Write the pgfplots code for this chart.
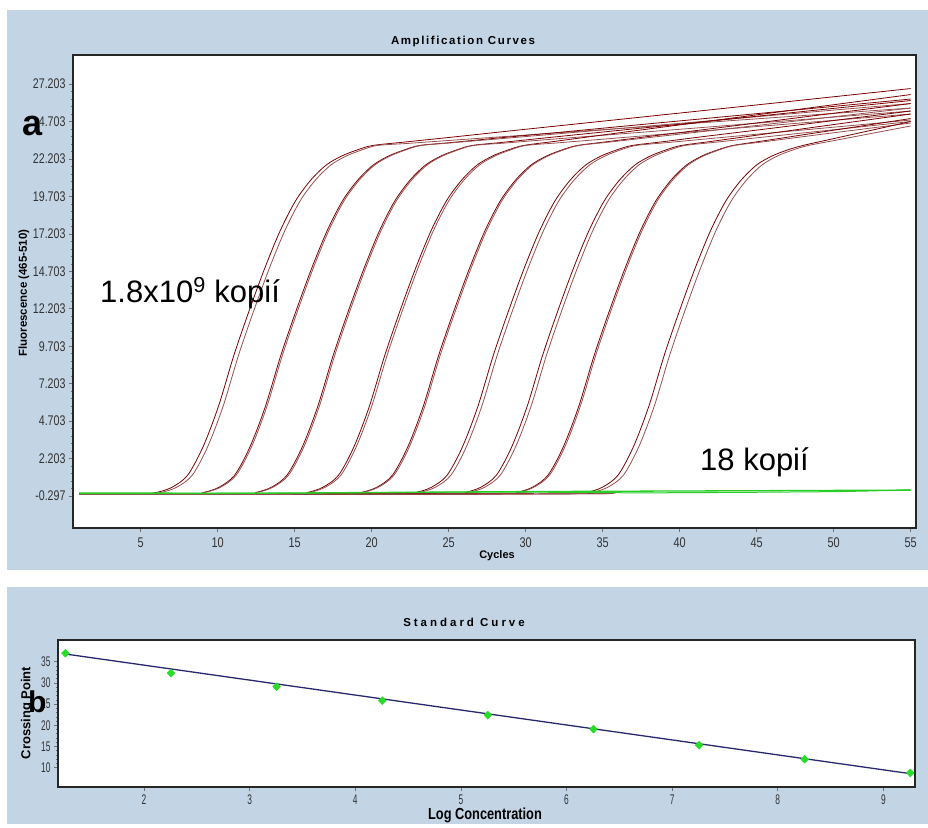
\documentclass[border=0pt]{standalone}
\usepackage{fontspec}
\setmainfont{Liberation Sans}
\usepackage{graphicx}
\usepackage{pgfplots}
\pgfplotsset{compat=1.18}
\definecolor{panel}{RGB}{195,212,228}
\definecolor{curveA}{RGB}{123,0,0}
\definecolor{curveB}{RGB}{150,80,80}
\definecolor{neg}{RGB}{40,205,40}
\definecolor{fitline}{RGB}{40,40,110}
\definecolor{ptgreen}{RGB}{40,220,40}
\newcommand\tlX[1]{\scalebox{0.78}[1]{#1}}
\newcommand\tlY[1]{\scalebox{0.76}[1]{#1}}
\newcommand\tlB[1]{\scalebox{0.6}[1]{#1}}
\begin{document}
\begin{tikzpicture}
\path[use as bounding box] (0pt,0pt) rectangle (928pt,-827pt);
\fill[white] (0pt,0pt) rectangle (928pt,-827pt);
\fill[panel] (7pt,-10pt) rectangle (928pt,-570pt);
\fill[panel] (7pt,-587pt) rectangle (928pt,-824pt);

\begin{axis}[
  at={(73pt,-528pt)}, anchor=south west, scale only axis,
  width=843pt, height=473pt,
  xmin=0.6, xmax=55.35, ymin=-2.43, ymax=29.14,
  axis background/.style={fill=white},
  axis line style={line width=1.1pt, black!85},
  tick pos=left, tick align=outside,
  major tick length=4pt, minor tick length=2pt,
  minor y tick num=4,
  tick style={black!55, line width=0.6pt},
  xtick={5,10,15,20,25,30,35,40,45,50,55},
  xticklabels={\tlX{5},\tlX{10},\tlX{15},\tlX{20},\tlX{25},\tlX{30},\tlX{35},\tlX{40},\tlX{45},\tlX{50},\tlX{55}},
  ytick={-0.297,2.203,4.703,7.203,9.703,12.203,14.703,17.203,19.703,22.203,24.703,27.203},
  yticklabels={\tlY{-0.297},\tlY{2.203},\tlY{4.703},\tlY{7.203},\tlY{9.703},\tlY{12.203},\tlY{14.703},\tlY{17.203},\tlY{19.703},\tlY{22.203},\tlY{24.703},\tlY{27.203}},
  xticklabel style={font=\fontsize{14}{14}\selectfont, text=black!80, yshift=-2pt},
  yticklabel style={font=\fontsize{14}{14}\selectfont, text=black!80},
  every axis plot/.append style={smooth, tension=0.5},
]
\addplot[curveA, line width=0.8pt] coordinates {(1,-0.15)(5.05,-0.15)(6.05,-0.05)(7.05,0.3)(8.05,1.1)(9.05,3.0)(10.05,5.7)(11.05,9.1)(12.05,12.1)(13.05,14.9)(14.05,17.4)(15.05,19.4)(16.05,20.8)(17.05,21.8)(18.05,22.4)(19.05,22.8)(20.05,23.1)(22.05,23.32)(25.05,23.64)(29.05,24.08)(34.05,24.62)(40.05,25.27)(47.05,26.03)(55,26.9)};
\addplot[curveB, line width=0.8pt] coordinates {(1,-0.2)(5.35,-0.15)(6.35,-0.05)(7.35,0.3)(8.35,1.1)(9.35,3.0)(10.35,5.7)(11.35,9.1)(12.35,12.1)(13.35,14.9)(14.35,17.4)(15.35,19.4)(16.35,20.8)(17.35,21.8)(18.35,22.4)(19.35,22.8)(20.35,23.1)(22.35,23.24)(25.35,23.46)(29.35,23.75)(34.35,24.11)(40.35,24.54)(47.35,25.05)(55,25.6)};
\addplot[curveA, line width=0.8pt] coordinates {(1,-0.15)(8.1,-0.15)(9.1,-0.05)(10.1,0.3)(11.1,1.1)(12.1,3.0)(13.1,5.7)(14.1,9.1)(15.1,12.1)(16.1,14.9)(17.1,17.4)(18.1,19.4)(19.1,20.8)(20.1,21.8)(21.1,22.4)(22.1,22.8)(23.1,23.1)(25.1,23.29)(28.1,23.59)(32.1,23.97)(37.1,24.46)(43.1,25.04)(50.1,25.72)(55,26.2)};
\addplot[curveB, line width=0.8pt] coordinates {(1,-0.15)(8.2,-0.15)(9.2,-0.05)(10.2,0.3)(11.2,1.1)(12.2,3.0)(13.2,5.7)(14.2,9.1)(15.2,12.1)(16.2,14.9)(17.2,17.4)(18.2,19.4)(19.2,20.8)(20.2,21.8)(21.2,22.4)(22.2,22.8)(23.2,23.1)(25.2,23.28)(28.2,23.54)(32.2,23.89)(37.2,24.33)(43.2,24.86)(50.2,25.48)(55,25.9)};
\addplot[curveA, line width=0.8pt] coordinates {(1,-0.15)(11.5,-0.15)(12.5,-0.05)(13.5,0.3)(14.5,1.1)(15.5,3.0)(16.5,5.7)(17.5,9.1)(18.5,12.1)(19.5,14.9)(20.5,17.4)(21.5,19.4)(22.5,20.8)(23.5,21.8)(24.5,22.4)(25.5,22.8)(26.5,23.1)(28.5,23.31)(31.5,23.63)(35.5,24.05)(40.5,24.57)(46.5,25.21)(55,26.1)};
\addplot[curveB, line width=0.8pt] coordinates {(1,-0.2)(11.6,-0.15)(12.6,-0.05)(13.6,0.3)(14.6,1.1)(15.6,3.0)(16.6,5.7)(17.6,9.1)(18.6,12.1)(19.6,14.9)(20.6,17.4)(21.6,19.4)(22.6,20.8)(23.6,21.8)(24.6,22.4)(25.6,22.8)(26.6,23.1)(28.6,23.26)(31.6,23.51)(35.6,23.83)(40.6,24.23)(46.6,24.72)(55,25.4)};
\addplot[curveA, line width=0.8pt] coordinates {(1,-0.15)(14.85,-0.15)(15.85,-0.05)(16.85,0.3)(17.85,1.1)(18.85,3.0)(19.85,5.7)(20.85,9.1)(21.85,12.1)(22.85,14.9)(23.85,17.4)(24.85,19.4)(25.85,20.8)(26.85,21.8)(27.85,22.4)(28.85,22.8)(29.85,23.1)(31.85,23.37)(34.85,23.78)(38.85,24.32)(43.85,24.99)(49.85,25.8)(55,26.5)};
\addplot[curveB, line width=0.8pt] coordinates {(1,-0.15)(15,-0.15)(16,-0.05)(17,0.3)(18,1.1)(19,3.0)(20,5.7)(21,9.1)(22,12.1)(23,14.9)(24,17.4)(25,19.4)(26,20.8)(27,21.8)(28,22.4)(29,22.8)(30,23.1)(32,23.27)(35,23.52)(39,23.86)(44,24.28)(50,24.78)(55,25.2)};
\addplot[curveA, line width=0.8pt] coordinates {(1,-0.15)(18.35,-0.15)(19.35,-0.05)(20.35,0.3)(21.35,1.1)(22.35,3.0)(23.35,5.7)(24.35,9.1)(25.35,12.1)(26.35,14.9)(27.35,17.4)(28.35,19.4)(29.35,20.8)(30.35,21.8)(31.35,22.4)(32.35,22.8)(33.35,23.1)(35.35,23.36)(38.35,23.75)(42.35,24.26)(47.35,24.91)(55,25.9)};
\addplot[curveB, line width=0.8pt] coordinates {(1,-0.2)(18.45,-0.15)(19.45,-0.05)(20.45,0.3)(21.45,1.1)(22.45,3.0)(23.45,5.7)(24.45,9.1)(25.45,12.1)(26.45,14.9)(27.45,17.4)(28.45,19.4)(29.45,20.8)(30.45,21.8)(31.45,22.4)(32.45,22.8)(33.45,23.1)(35.45,23.33)(38.45,23.68)(42.45,24.14)(47.45,24.72)(55,25.6)};
\addplot[curveA, line width=0.8pt] coordinates {(1,-0.15)(21.9,-0.15)(22.9,-0.05)(23.9,0.3)(24.9,1.1)(25.9,3.0)(26.9,5.7)(27.9,9.1)(28.9,12.1)(29.9,14.9)(30.9,17.4)(31.9,19.4)(32.9,20.8)(33.9,21.8)(34.9,22.4)(35.9,22.8)(36.9,23.1)(38.9,23.35)(41.9,23.74)(45.9,24.24)(50.9,24.88)(55,25.4)};
\addplot[curveB, line width=0.8pt] coordinates {(1,-0.15)(22.15,-0.15)(23.15,-0.05)(24.15,0.3)(25.15,1.1)(26.15,3.0)(27.15,5.7)(28.15,9.1)(29.15,12.1)(30.15,14.9)(31.15,17.4)(32.15,19.4)(33.15,20.8)(34.15,21.8)(35.15,22.4)(36.15,22.8)(37.15,23.1)(39.15,23.29)(42.15,23.58)(46.15,23.96)(51.15,24.43)(55,24.8)};
\addplot[curveA, line width=0.8pt] coordinates {(1,-0.15)(25.1,-0.15)(26.1,-0.05)(27.1,0.3)(28.1,1.1)(29.1,3.0)(30.1,5.7)(31.1,9.1)(32.1,12.1)(33.1,14.9)(34.1,17.4)(35.1,19.4)(36.1,20.8)(37.1,21.8)(38.1,22.4)(39.1,22.8)(40.1,23.1)(42.1,23.38)(45.1,23.8)(49.1,24.37)(55,25.2)};
\addplot[curveB, line width=0.8pt] coordinates {(1,-0.2)(25.35,-0.15)(26.35,-0.05)(27.35,0.3)(28.35,1.1)(29.35,3.0)(30.35,5.7)(31.35,9.1)(32.35,12.1)(33.35,14.9)(34.35,17.4)(35.35,19.4)(36.35,20.8)(37.35,21.8)(38.35,22.4)(39.35,22.8)(40.35,23.1)(42.35,23.32)(45.35,23.65)(49.35,24.08)(55,24.7)};
\addplot[curveA, line width=0.8pt] coordinates {(1,-0.15)(28.45,-0.15)(29.45,-0.05)(30.45,0.3)(31.45,1.1)(32.45,3.0)(33.45,5.7)(34.45,9.1)(35.45,12.1)(36.45,14.9)(37.45,17.4)(38.45,19.4)(39.45,20.8)(40.45,21.8)(41.45,22.4)(42.45,22.8)(43.45,23.1)(45.45,23.41)(48.45,23.88)(52.45,24.5)(55,24.9)};
\addplot[curveB, line width=0.8pt] coordinates {(1,-0.15)(28.55,-0.15)(29.55,-0.05)(30.55,0.3)(31.55,1.1)(32.55,3.0)(33.55,5.7)(34.55,9.1)(35.55,12.1)(36.55,14.9)(37.55,17.4)(38.55,19.4)(39.55,20.8)(40.55,21.8)(41.55,22.4)(42.55,22.8)(43.55,23.1)(45.55,23.36)(48.55,23.76)(52.55,24.28)(55,24.6)};
\addplot[curveA, line width=0.8pt] coordinates {(1,-0.15)(33,-0.15)(34,-0.05)(35,0.3)(36,1.1)(37,3.0)(38,5.7)(39,9.1)(40,12.1)(41,14.9)(42,17.4)(43,19.4)(44,20.8)(45,21.8)(46,22.4)(47,22.8)(48,23.1)(50,23.56)(53,24.24)(55,24.7)};
\addplot[curveB, line width=0.8pt] coordinates {(1,-0.2)(33.35,-0.15)(34.35,-0.05)(35.35,0.3)(36.35,1.1)(37.35,3.0)(38.35,5.7)(39.35,9.1)(40.35,12.1)(41.35,14.9)(42.35,17.4)(43.35,19.4)(44.35,20.8)(45.35,21.8)(46.35,22.4)(47.35,22.8)(48.35,23.1)(50.35,23.49)(53.35,24.08)(55,24.4)};
\addplot[neg, line width=1.3pt] coordinates {(1,-0.12)(10,-0.12)(20,-0.06)(30,0.0)(40,0.04)(55,0.1)};
\addplot[neg, line width=1.0pt] coordinates {(1,-0.08)(15,-0.1)(28,-0.03)(38,-0.08)(50,0.0)(55,0.12)};
\end{axis}

\begin{axis}[
  at={(58pt,-787pt)}, anchor=south west, scale only axis,
  width=857pt, height=147pt,
  xmin=1.185, xmax=9.30, ymin=5.45, ymax=40.1,
  axis background/.style={fill=white},
  axis line style={line width=1.1pt, black!85},
  tick pos=left, tick align=outside,
  major tick length=4pt, minor tick length=2pt,
  minor y tick num=4,
  tick style={black!55, line width=0.6pt},
  xtick={2,3,4,5,6,7,8,9},
  xticklabels={\tlB{2},\tlB{3},\tlB{4},\tlB{5},\tlB{6},\tlB{7},\tlB{8},\tlB{9}},
  ytick={10,15,20,25,30,35},
  yticklabels={\tlB{10},\tlB{15},\tlB{20},\tlB{25},\tlB{30},\tlB{35}},
  xticklabel style={font=\fontsize{14}{14}\selectfont, text=black!80},
  yticklabel style={font=\fontsize{14}{14}\selectfont, text=black!80},
  clip=false,
]
\addplot[fitline, line width=1.3pt] coordinates {(1.255,36.8)(9.255,8.6)};
\addplot[only marks, mark=diamond*, mark size=4pt, mark options={xscale=1.3}, color=ptgreen] coordinates {(1.255,37.0)(2.255,32.3)(3.255,29.1)(4.255,25.8)(5.255,22.4)(6.255,19.1)(7.255,15.3)(8.255,12.0)(9.255,8.8)};
\end{axis}

% titles and labels
\node[font=\fontsize{11.5}{11.5}\selectfont\bfseries\addfontfeature{LetterSpace=14}] at (463pt,-42pt) {Amplification Curves};
\node[font=\fontsize{11.5}{11.5}\selectfont\bfseries, rotate=90] at (24pt,-293pt) {Fluorescence (465-510)};
\node[font=\fontsize{11}{11}\selectfont\bfseries] at (497pt,-556pt) {Cycles};
\node[font=\fontsize{31}{31}\selectfont, anchor=base west, inner sep=0pt] at (100pt,-302pt) {1.8x10\textsuperscript{9} kopií};
\node[font=\fontsize{31}{31}\selectfont, anchor=base west, inner sep=0pt] at (700pt,-470pt) {18 kopií};
\fill[panel] (31pt,-114pt) rectangle (40pt,-130pt);
\node[font=\fontsize{36}{36}\selectfont\bfseries, anchor=base west, inner sep=0pt] at (22pt,-135pt) {a};

\node[font=\fontsize{11.5}{11.5}\selectfont\bfseries\addfontfeature{LetterSpace=26}] at (464pt,-622pt) {Standard Curve};
\node[font=\fontsize{13}{13}\selectfont\bfseries, rotate=90] at (27pt,-713pt) {Crossing Point};
\node[font=\fontsize{16}{16}\selectfont\bfseries] at (485pt,-815pt) {\scalebox{0.8}[1]{Log Concentration}};
\node[font=\fontsize{30}{30}\selectfont\bfseries, anchor=base west, inner sep=0pt] at (28pt,-712pt) {b};
\end{tikzpicture}
\end{document}
